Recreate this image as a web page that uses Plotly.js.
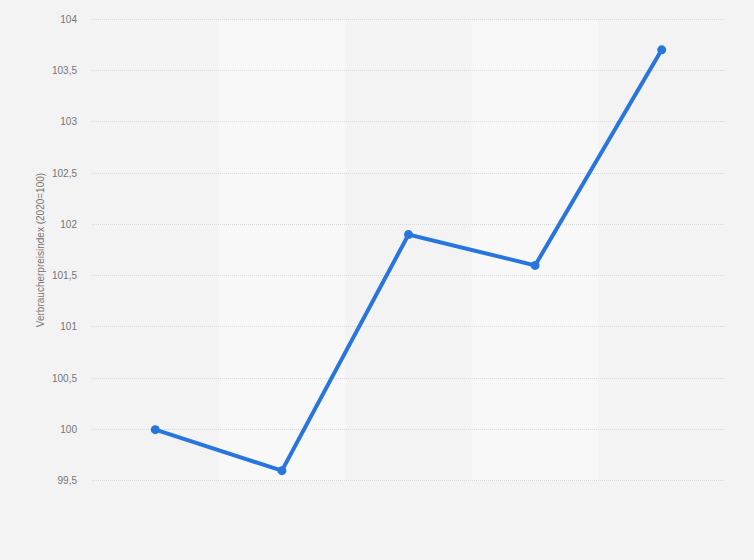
<!DOCTYPE html>
<html>
<head>
<meta charset="utf-8">
<script src="https://cdn.plot.ly/plotly-3.0.1.min.js"></script>
<style>html,body{margin:0;padding:0;background:#f3f3f3;}#chart{width:754px;height:560px;}</style>
</head>
<body>
<div id="chart"></div>
<script>
var categories = ['2020', '2021', '2022', '2023', '2024'];
var values = [100, 99.6, 101.9, 101.6, 103.7];
var yTicks = [99.5, 100, 100.5, 101, 101.5, 102, 102.5, 103, 103.5, 104];
var yTickLabels = ['99,5', '100', '100,5', '101', '101,5', '102', '102,5', '103', '103,5', '104'];

var shapes = [];
categories.forEach(function (c, i) {
  if (i % 2 === 1) {
    shapes.push({
      type: 'rect', xref: 'x', yref: 'y',
      x0: i - 0.5, x1: i + 0.5, y0: yTicks[0], y1: yTicks[yTicks.length - 1],
      fillcolor: '#f8f8f8', line: {width: 0}, layer: 'below'
    });
  }
});

var trace = {
  x: categories.map(function (c, i) { return i; }),
  y: values,
  type: 'scatter',
  mode: 'lines+markers',
  line: {color: '#2876dd', width: 4},
  marker: {color: '#2876dd', size: 9},
  hoverinfo: 'x+y'
};

var layout = {
  width: 754, height: 560,
  paper_bgcolor: '#f3f3f3',
  plot_bgcolor: '#f3f3f3',
  margin: {l: 92, r: 29, t: 17, b: 77},
  showlegend: false,
  shapes: shapes,
  xaxis: {
    range: [-0.5, categories.length - 0.5],
    tickvals: categories.map(function (c, i) { return i; }),
    ticktext: categories,
    showticklabels: false,
    showgrid: false, zeroline: false, showline: false, ticks: ''
  },
  yaxis: {
    range: [99.48, 104.02],
    tickvals: yTicks,
    ticktext: yTickLabels,
    tickfont: {family: 'Arial, Liberation Sans, sans-serif', size: 10, color: '#757575'},
    showgrid: true, gridcolor: '#d9d9d9', griddash: '1px,1px', gridwidth: 1,
    zeroline: false, showline: false, ticks: '',
    ticklabelstandoff: 14,
    title: {text: 'Verbraucherpreisindex (2020=100)', font: {family: 'Arial, Liberation Sans, sans-serif', size: 10, color: '#757575'}, standoff: 5}
  }
};

Plotly.newPlot('chart', [trace], layout, {displayModeBar: false, staticPlot: true});
</script>
</body>
</html>
